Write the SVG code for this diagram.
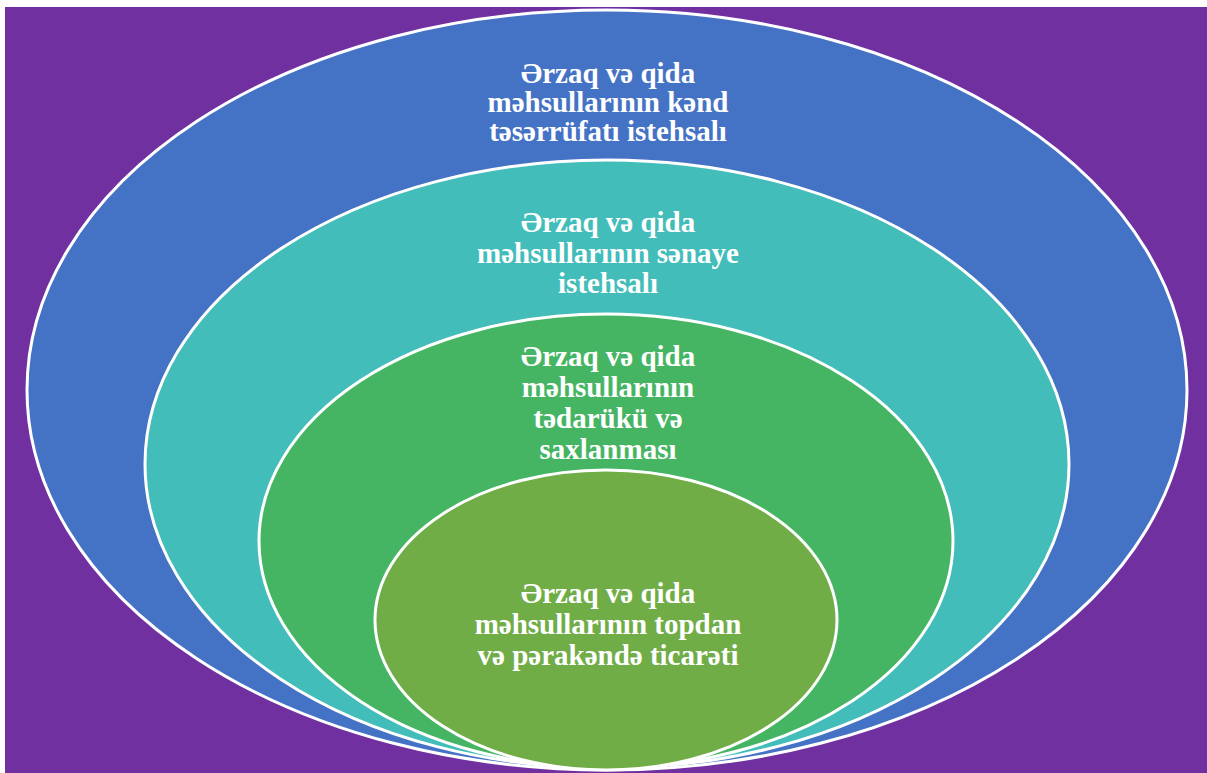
<svg xmlns="http://www.w3.org/2000/svg" width="1207" height="773" viewBox="0 0 1207 773">
<style>
.e{stroke:#fff;stroke-width:3}
.t{font-family:"Liberation Serif","Times New Roman",serif;font-weight:bold;font-size:29px;fill:#fff;text-anchor:middle}
</style>
<rect x="0" y="0" width="1207" height="773" fill="#fff"/>
<rect x="5" y="7" width="1202" height="766" fill="#7030A0"/>
<g id="n1"><ellipse class="e" cx="607" cy="390" rx="580" ry="380" fill="#4472C4"/>
<text class="t" x="608" y="83">Ərzaq və qida</text>
<text class="t" x="608" y="112">məhsullarının kənd</text>
<text class="t" x="608" y="141">təsərrüfatı istehsalı</text></g>
<g id="n2"><ellipse class="e" cx="607" cy="464" rx="462" ry="304" fill="#43BDB9"/>
<text class="t" x="608" y="232">Ərzaq və qida</text>
<text class="t" x="608" y="263">məhsullarının sənaye</text>
<text class="t" x="608" y="293">istehsalı</text></g>
<g id="n3"><ellipse class="e" cx="606" cy="541" rx="347" ry="227" fill="#46B563"/>
<text class="t" x="608" y="366">Ərzaq və qida</text>
<text class="t" x="608" y="397">məhsullarının</text>
<text class="t" x="608" y="428">tədarükü və</text>
<text class="t" x="608" y="459">saxlanması</text></g>
<g id="n4"><ellipse class="e" cx="606" cy="620" rx="231" ry="150" fill="#70AD47"/>
<text class="t" x="608" y="603">Ərzaq və qida</text>
<text class="t" x="608" y="634">məhsullarının topdan</text>
<text class="t" x="608" y="665">və pərakəndə ticarəti</text></g>
<g id="connectors"></g>
</svg>
